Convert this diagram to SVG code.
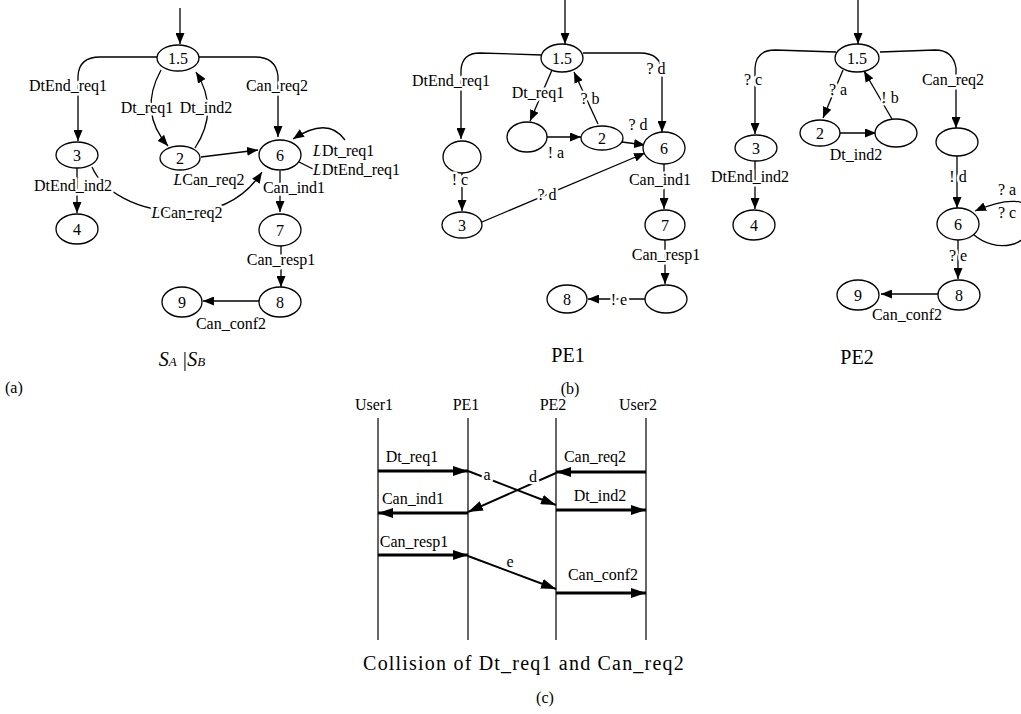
<svg xmlns="http://www.w3.org/2000/svg" width="1021" height="714" viewBox="0 0 1021 714">
<style>
.n{fill:#fff;stroke:#000;stroke-width:1.3}
.e{fill:none;stroke:#000;stroke-width:1.3}
.s{fill:none;stroke:#000;stroke-width:1.2}
.k{fill:none;stroke:#000;stroke-width:3}
.m{fill:none;stroke:#000;stroke-width:2}
text{font-family:"Liberation Serif","Times New Roman",serif;font-size:16px;fill:#000;text-anchor:middle}
.l{paint-order:stroke;stroke:#fff;stroke-width:5px;stroke-linejoin:round}
.st{text-anchor:start}
.ti{font-size:20px}
.i{font-style:italic}
</style>
<defs>
<marker id="a" markerUnits="userSpaceOnUse" markerWidth="11" markerHeight="9" refX="11" refY="4.5" orient="auto"><path d="M0,0L11,4.5L0,9z" fill="#000"/></marker>
<marker id="b" markerUnits="userSpaceOnUse" markerWidth="15" markerHeight="10" refX="15" refY="5" orient="auto"><path d="M0,0L15,5L0,10z" fill="#000"/></marker>
</defs>

<g id="connectors">
<!-- (a) -->
<path class="e" d="M180,8L180,44" marker-end="url(#a)"/>
<path class="e" d="M157,57L100,57Q79,57 78,76L78,141" marker-end="url(#a)"/>
<path class="e" d="M161,70Q138,112 168,146" marker-end="url(#a)"/>
<path class="e" d="M195,148Q220,110 196,72" marker-end="url(#a)"/>
<path class="e" d="M199,57L255,57Q276,57 278,76L278,137" marker-end="url(#a)"/>
<path class="e" d="M201,157L258,150" marker-end="url(#a)"/>
<path class="e" d="M299,162L313,169"/>
<path class="e" d="M345,140Q328,116 293,139" marker-end="url(#a)"/>
<path class="e" d="M77,168L77,213" marker-end="url(#a)"/>
<path class="e" d="M92,167C102,190 135,212 185,212C222,212 246,196 262,172" marker-end="url(#a)"/>
<path class="e" d="M280,171L280,212" marker-end="url(#a)"/>
<path class="e" d="M281,246L281,287" marker-end="url(#a)"/>
<path class="e" d="M259,301L203,301" marker-end="url(#a)"/>
<!-- PE1 -->
<path class="e" d="M565,0L565,44" marker-end="url(#a)"/>
<path class="e" d="M542,55L480,53Q462,53 461,70L461,139" marker-end="url(#a)"/>
<path class="e" d="M552,70L530,121" marker-end="url(#a)"/>
<path class="e" d="M547,137L581,137" marker-end="url(#a)"/>
<path class="e" d="M598,124L574,72" marker-end="url(#a)"/>
<path class="e" d="M622,142L645,145" marker-end="url(#a)"/>
<path class="e" d="M583,53L640,53Q661,53 662,72L662,132" marker-end="url(#a)"/>
<path class="e" d="M462,173L462,211" marker-end="url(#a)"/>
<path class="e" d="M482,222L645,153" marker-end="url(#a)"/>
<path class="e" d="M664,163L664,209" marker-end="url(#a)"/>
<path class="e" d="M665,240L665,284" marker-end="url(#a)"/>
<path class="e" d="M645,299L588,299" marker-end="url(#a)"/>
<!-- PE2 -->
<path class="e" d="M858,0L858,44" marker-end="url(#a)"/>
<path class="e" d="M836,52L775,50Q756,50 755,68L755,134" marker-end="url(#a)"/>
<path class="e" d="M843,70L823,118" marker-end="url(#a)"/>
<path class="e" d="M840,133L876,133" marker-end="url(#a)"/>
<path class="e" d="M892,119L864,71" marker-end="url(#a)"/>
<path class="e" d="M880,52L935,50Q953,50 956,68L956,128" marker-end="url(#a)"/>
<path class="e" d="M755,161L755,209" marker-end="url(#a)"/>
<path class="e" d="M957,156L957,208" marker-end="url(#a)"/>
<path class="e" d="M973,234C995,254 1032,248 1032,218C1032,196 1005,198 975,211" marker-end="url(#a)"/>
<path class="e" d="M958,240L958,279" marker-end="url(#a)"/>
<path class="e" d="M938,294L881,294" marker-end="url(#a)"/>
<!-- (c) lifelines -->
<path class="s" d="M378,418L378,640M468,418L468,640M556,418L556,640M646,418L646,640"/>
<path class="k" d="M378,471L468,471" marker-end="url(#b)"/>
<path class="m" d="M468,471L556,505" marker-end="url(#b)"/>
<path class="k" d="M646,472L556,472" marker-end="url(#b)"/>
<path class="m" d="M556,473L468,512" marker-end="url(#b)"/>
<path class="k" d="M468,513L378,513" marker-end="url(#b)"/>
<path class="k" d="M556,510L646,510" marker-end="url(#b)"/>
<path class="k" d="M378,555L468,555" marker-end="url(#b)"/>
<path class="m" d="M468,556L556,589" marker-end="url(#b)"/>
<path class="k" d="M556,593L646,593" marker-end="url(#b)"/>
</g>

<!-- (a) nodes -->
<g id="a15"><ellipse class="n" cx="178" cy="58" rx="21" ry="13"/><text x="178" y="64">1.5</text></g>
<g id="a3"><ellipse class="n" cx="77" cy="155" rx="21" ry="13"/><text x="77" y="161">3</text></g>
<g id="a2"><ellipse class="n" cx="180" cy="158" rx="20" ry="12"/><text x="180" y="164">2</text></g>
<g id="a6"><ellipse class="n" cx="280" cy="155" rx="21" ry="15"/><text x="280" y="161">6</text></g>
<g id="a4"><ellipse class="n" cx="77" cy="229" rx="21" ry="15"/><text x="77" y="235">4</text></g>
<g id="a7"><ellipse class="n" cx="280" cy="230" rx="21" ry="16"/><text x="280" y="236">7</text></g>
<g id="a8"><ellipse class="n" cx="280" cy="302" rx="21" ry="15"/><text x="280" y="308">8</text></g>
<g id="a9"><ellipse class="n" cx="182" cy="302" rx="20" ry="15"/><text x="182" y="308">9</text></g>

<!-- PE1 nodes -->
<g id="p1_15"><ellipse class="n" cx="562" cy="58" rx="21" ry="14"/><text x="562" y="64">1.5</text></g>
<g id="p1_e1"><ellipse class="n" cx="462" cy="157" rx="19" ry="16"/></g>
<g id="p1_e2"><ellipse class="n" cx="527" cy="137" rx="20" ry="15"/></g>
<g id="p1_2"><ellipse class="n" cx="602" cy="138" rx="21" ry="12"/><text x="602" y="144">2</text></g>
<g id="p1_6"><ellipse class="n" cx="664" cy="148" rx="21" ry="16"/><text x="664" y="154">6</text></g>
<g id="p1_3"><ellipse class="n" cx="462" cy="225" rx="20" ry="13"/><text x="462" y="231">3</text></g>
<g id="p1_7"><ellipse class="n" cx="665" cy="225" rx="20" ry="15"/><text x="665" y="231">7</text></g>
<g id="p1_e3"><ellipse class="n" cx="666" cy="299" rx="21" ry="14"/></g>
<g id="p1_8"><ellipse class="n" cx="567" cy="299" rx="20" ry="14"/><text x="567" y="305">8</text></g>

<!-- PE2 nodes -->
<g id="p2_15"><ellipse class="n" cx="857" cy="58" rx="22" ry="14"/><text x="857" y="64">1.5</text></g>
<g id="p2_3"><ellipse class="n" cx="756" cy="148" rx="21" ry="13"/><text x="756" y="154">3</text></g>
<g id="p2_2"><ellipse class="n" cx="820" cy="133" rx="20" ry="13"/><text x="820" y="139">2</text></g>
<g id="p2_e1"><ellipse class="n" cx="896" cy="133" rx="21" ry="14"/></g>
<g id="p2_e2"><ellipse class="n" cx="957" cy="142" rx="21" ry="14"/></g>
<g id="p2_4"><ellipse class="n" cx="754" cy="225" rx="21" ry="15"/><text x="754" y="231">4</text></g>
<g id="p2_6"><ellipse class="n" cx="958" cy="224" rx="21" ry="16"/><text x="958" y="230">6</text></g>
<g id="p2_8"><ellipse class="n" cx="959" cy="295" rx="21" ry="15"/><text x="959" y="301">8</text></g>
<g id="p2_9"><ellipse class="n" cx="858" cy="295" rx="21" ry="15"/><text x="858" y="301">9</text></g>

<!-- labels -->
<g id="labels">
<text class="l" x="68" y="91">DtEnd_req1</text>
<text class="l" x="147" y="113">Dt_req1</text>
<text class="l" x="206" y="113">Dt_ind2</text>
<text class="l" x="277" y="91">Can_req2</text>
<text class="l st" x="313" y="156"><tspan class="i">L</tspan>Dt_req1</text>
<text class="l st" x="313" y="175"><tspan class="i">L</tspan>DtEnd_req1</text>
<text class="l" x="209" y="185"><tspan class="i">L</tspan>Can_req2</text>
<text class="l" x="73" y="191">DtEnd_ind2</text>
<text class="l" x="187" y="218"><tspan class="i">L</tspan>Can_req2</text>
<text class="l" x="294" y="193">Can_ind1</text>
<text class="l" x="281" y="265">Can_resp1</text>
<text class="l" x="231" y="329">Can_conf2</text>
<text class="ti i" x="182" y="366">S<tspan font-size="13">A</tspan> |S<tspan font-size="13">B</tspan></text>
<text class="st" x="5" y="393">(a)</text>

<text class="l" x="451" y="86">DtEnd_req1</text>
<text class="l" x="538" y="98">Dt_req1</text>
<text class="l" x="556" y="158">! a</text>
<text class="l" x="590" y="104">? b</text>
<text class="l" x="638" y="130">? d</text>
<text class="l" x="656" y="74">? d</text>
<text class="l" x="460" y="185">! c</text>
<text class="l" x="547" y="200">? d</text>
<text class="l" x="660" y="185">Can_ind1</text>
<text class="l" x="666" y="260">Can_resp1</text>
<text class="l" x="619" y="305">! e</text>
<text class="ti" x="568" y="362">PE1</text>
<text x="570" y="394">(b)</text>

<text class="l" x="753" y="85">? c</text>
<text class="l" x="838" y="95">? a</text>
<text class="l" x="856" y="160">Dt_ind2</text>
<text class="l" x="890" y="103">! b</text>
<text class="l" x="953" y="85">Can_req2</text>
<text class="l" x="750" y="182">DtEnd_ind2</text>
<text class="l" x="958" y="182">! d</text>
<text class="l" x="1007" y="195">? a</text>
<text class="l" x="1007" y="218">? c</text>
<text class="l" x="958" y="261">? e</text>
<text class="l" x="907" y="320">Can_conf2</text>
<text class="ti" x="857" y="364">PE2</text>

<text x="374" y="410">User1</text>
<text x="466" y="410">PE1</text>
<text x="553" y="410">PE2</text>
<text x="638" y="410">User2</text>
<text x="412" y="462">Dt_req1</text>
<text class="l" x="487" y="480">a</text>
<text x="595" y="462">Can_req2</text>
<text class="l" x="533" y="482">d</text>
<text x="413" y="504">Can_ind1</text>
<text x="600" y="501">Dt_ind2</text>
<text x="414" y="547">Can_resp1</text>
<text class="l" x="510" y="567">e</text>
<text x="603" y="580">Can_conf2</text>
<text class="ti" x="524" y="670" font-size="21" letter-spacing="1.2">Collision of Dt_req1 and Can_req2</text>
<text x="545" y="703" font-size="17">(c)</text>
</g>
</svg>
